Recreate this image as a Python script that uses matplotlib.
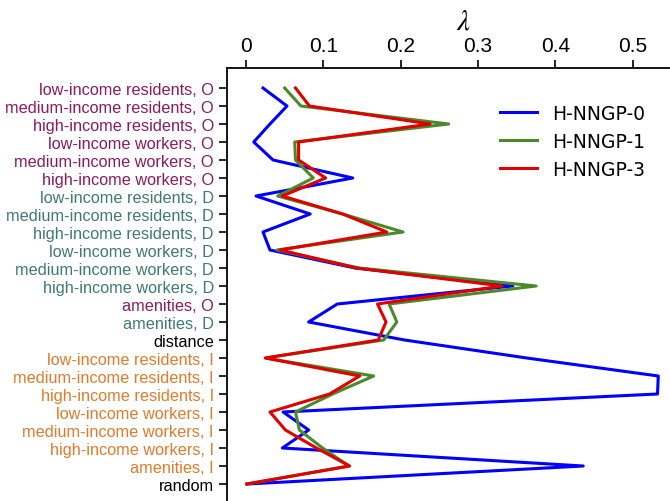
import matplotlib
matplotlib.use("Agg")
import matplotlib.pyplot as plt
import numpy as np

# feature names, top to bottom
features = [
    "low-income residents, O", "medium-income residents, O", "high-income residents, O",
    "low-income workers, O", "medium-income workers, O", "high-income workers, O",
    "low-income residents, D", "medium-income residents, D", "high-income residents, D",
    "low-income workers, D", "medium-income workers, D", "high-income workers, D",
    "amenities, O", "amenities, D", "distance",
    "low-income residents, I", "medium-income residents, I", "high-income residents, I",
    "low-income workers, I", "medium-income workers, I", "high-income workers, I",
    "amenities, I", "random",
]
# label group: O = origin, D = destination, I = intervening, N = none
groups = ["O"] * 6 + ["D"] * 6 + ["O", "D", "N"] + ["I"] * 7 + ["N"]

lam_0 = [0.022, 0.053, 0.031, 0.010, 0.035, 0.138, 0.013, 0.083, 0.022, 0.031, 0.141, 0.345,
         0.118, 0.081, 0.205, 0.363, 0.533, 0.532, 0.048, 0.081, 0.047, 0.436, 0.002]
lam_1 = [0.050, 0.071, 0.262, 0.063, 0.064, 0.087, 0.041, 0.125, 0.203, 0.040, 0.146, 0.375,
         0.185, 0.195, 0.178, 0.025, 0.165, 0.112, 0.064, 0.069, 0.099, 0.133, 0.001]
lam_3 = [0.064, 0.082, 0.238, 0.068, 0.068, 0.103, 0.047, 0.125, 0.182, 0.044, 0.143, 0.331,
         0.170, 0.181, 0.171, 0.025, 0.147, 0.108, 0.031, 0.051, 0.091, 0.134, 0.001]

series = [("H-NNGP-0", lam_0, "#0000ff"),
          ("H-NNGP-1", lam_1, "#4a8a2a"),
          ("H-NNGP-3", lam_3, "#e00000")]
group_colors = {"O": "#8b1a5e", "D": "#3f7a70", "I": "#e07b2b", "N": "black"}

plt.rcParams["mathtext.fontset"] = "stix"

fig = plt.figure(figsize=(6.7, 5.02), dpi=100)
# axes run past the right and bottom edge of the picture on purpose
ax = fig.add_axes([227 / 670, 1 - 525 / 502, (700 - 227) / 670, (525 - 69) / 502])

y = np.arange(len(features))
for name, vals, col in series:
    ax.plot(vals, y, color=col, lw=2.2, label=name)

ax.set_ylim((525 - 89) / 18.0, -20 / 18.0)
ax.set_xlim(-19 / 773.5, (700 - 246) / 773.5)

ax.xaxis.tick_top()
ax.xaxis.set_label_position("top")
ax.set_xticks([0, 0.1, 0.2, 0.3, 0.4, 0.5])
ax.set_xticklabels(["0", "0.1", "0.2", "0.3", "0.4", "0.5"],
                   fontsize=15, family="Liberation Sans")
ax.set_xlabel(r"$\lambda$", fontsize=21, labelpad=5)

ax.set_yticks(y)
ax.set_yticklabels(features, fontsize=11.7, family="Liberation Sans")
for lbl, g in zip(ax.get_yticklabels(), groups):
    lbl.set_color(group_colors[g])

ax.tick_params(direction="out", length=6, width=1.2)
for s in ax.spines.values():
    s.set_linewidth(1.3)

ax.legend(loc="upper left", bbox_to_anchor=((483 - 227) / 473, 1 - 19 / 456),
          frameon=False, fontsize=13.5, handlelength=2.0, labelspacing=0.48)

fig.savefig("out.png", dpi=100)
